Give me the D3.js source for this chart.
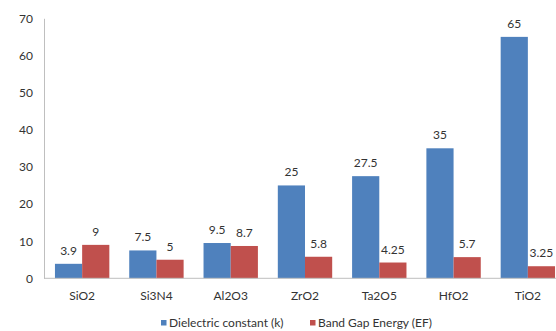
<!DOCTYPE html>
<html>
<head>
<meta charset="utf-8">
<script src="https://cdn.jsdelivr.net/npm/d3@7"></script>
<style>
  html, body { margin: 0; padding: 0; background: #fff; }
  svg { display: block; font-family: Lato, "Liberation Sans", sans-serif; }
</style>
</head>
<body>
<svg id="chart" width="556" height="331"></svg>
<script>
const categories = ["SiO2", "Si3N4", "Al2O3", "ZrO2", "Ta2O5", "HfO2", "TiO2"];
const seriesNames = ["Dielectric constant (k)", "Band Gap Energy (EF)"];
const dielectric = [3.9, 7.5, 9.5, 25, 27.5, 35, 65];
const bandGap = [9, 5, 8.7, 5.8, 4.25, 5.7, 3.25];
const yTicks = [0, 10, 20, 30, 40, 50, 60, 70];
const colors = ["#4F81BD", "#C0504D"];

const seriesValues = [dielectric, bandGap];
const svg = d3.select("#chart");

const x = d3.scaleBand().domain(categories).range([45, 565]).paddingInner(0.268).paddingOuter(0.134);
const xs = d3.scaleBand().domain(seriesNames).range([0, x.bandwidth()]);
const y = d3.scaleLinear().domain([0, 70]).range([278.3, 18.3]);

// y axis
const yAxis = svg.append("g").attr("transform", "translate(44,0)")
  .call(d3.axisLeft(y).tickValues(yTicks).tickSize(0).tickPadding(11));
yAxis.select(".domain").attr("stroke", "#bfbfbf");
yAxis.selectAll("text").attr("font-size", "12px").attr("fill", "#333").attr("font-family", "Lato, sans-serif");

// bars
seriesNames.forEach((s, si) => {
  svg.append("g").selectAll("rect")
    .data(categories.map((c, i) => ({ c, v: seriesValues[si][i] })))
    .join("rect")
    .attr("x", d => x(d.c) + xs(s))
    .attr("y", d => y(d.v))
    .attr("width", xs.bandwidth())
    .attr("height", d => y(0) - y(d.v))
    .attr("fill", colors[si]);
  svg.append("g").selectAll("text")
    .data(categories.map((c, i) => ({ c, v: seriesValues[si][i] })))
    .join("text")
    .attr("x", d => x(d.c) + xs(s) + xs.bandwidth() / 2)
    .attr("y", d => y(d.v) - 9)
    .attr("text-anchor", "middle")
    .attr("font-size", "12px")
    .attr("fill", "#333")
    .text(d => d.v);
});

// x axis
const xAxis = svg.append("g").attr("transform", `translate(0,${y(0)})`)
  .call(d3.axisBottom(x).tickSize(0).tickPadding(13));
xAxis.select(".domain").attr("stroke", "#bfbfbf").attr("d", "M44,0H556");
xAxis.selectAll("text").attr("font-size", "12px").attr("fill", "#333").attr("font-family", "Lato, sans-serif");

// legend
const legendX = [161, 310];
seriesNames.forEach((s, si) => {
  const g = svg.append("g").attr("transform", `translate(${legendX[si]},320)`);
  g.append("rect").attr("width", 5.5).attr("height", 5.5).attr("fill", colors[si]);
  g.append("text").attr("x", 8).attr("y", 6.5).attr("font-size", "12px").attr("fill", "#333").text(s);
});
</script>
</body>
</html>
